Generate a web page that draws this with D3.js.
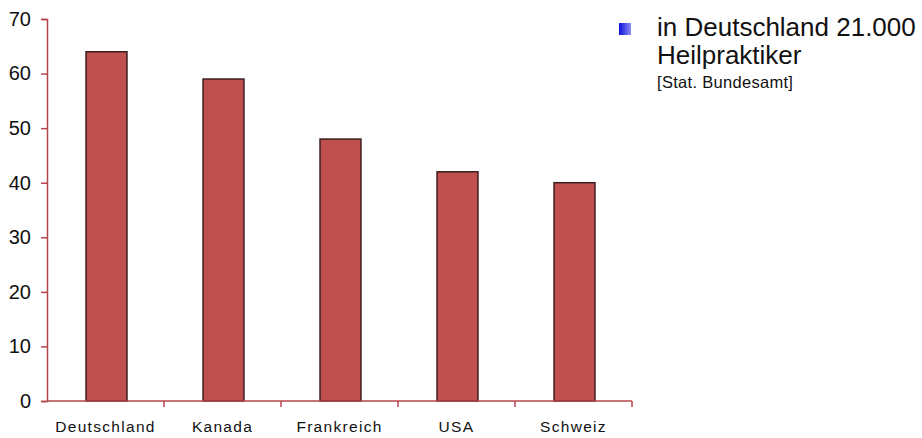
<!DOCTYPE html>
<html>
<head>
<meta charset="utf-8">
<script src="https://cdn.jsdelivr.net/npm/d3@7"></script>
<style>
  body { margin: 0; background: #fff; }
  svg { display: block; font-family: "Liberation Sans", Arial, sans-serif; }
</style>
</head>
<body>
<svg id="chart" width="922" height="438"></svg>
<script>
// data
const countries = ["Deutschland", "Kanada", "Frankreich", "USA", "Schweiz"];
const values = [64, 59, 48, 42, 40];
const yTicks = [0, 10, 20, 30, 40, 50, 60, 70];
const noteLines = ["in Deutschland 21.000", "Heilpraktiker"];
const noteSource = "[Stat. Bundesamt]";

const svg = d3.select("#chart");
const axisColor = "#b4444a";

const x = d3.scaleBand().domain(countries).range([47, 632]).padding(0);
const y = d3.scaleLinear().domain([0, 70]).range([401, 19]);

// bars
const barW = x.bandwidth() * 0.35;
svg.append("g")
  .selectAll("rect")
  .data(countries)
  .join("rect")
    .attr("x", (d) => x(d) + x.bandwidth() / 2 - barW / 2 + 1)
    .attr("y", (d, i) => y(values[i]))
    .attr("width", barW)
    .attr("height", (d, i) => y(0) - y(values[i]))
    .attr("fill", "#c0504d")
    .attr("stroke", "#3b1f1f")
    .attr("stroke-width", 1.5);

// y axis
const yAxis = svg.append("g")
  .attr("transform", "translate(47,0)")
  .call(d3.axisLeft(y).tickValues(yTicks).tickSize(6).tickPadding(10));
yAxis.select(".domain").attr("stroke", axisColor).attr("stroke-width", 1.5);
yAxis.selectAll(".tick line").attr("stroke", axisColor).attr("stroke-width", 1.5);
yAxis.selectAll(".tick text")
  .attr("fill", "#111")
  .attr("font-size", 20)
  .attr("font-family", "Liberation Sans, Arial, sans-serif");

// x axis: ticks sit between the categories
const xAxis = svg.append("g").attr("transform", "translate(0,401)");
xAxis.append("line")
  .attr("x1", 47).attr("x2", 632)
  .attr("stroke", axisColor).attr("stroke-width", 1.5);
xAxis.selectAll("line.sep")
  .data(countries)
  .join("line")
    .attr("class", "sep")
    .attr("x1", (d) => x(d) + x.bandwidth())
    .attr("x2", (d) => x(d) + x.bandwidth())
    .attr("y1", 0).attr("y2", 6)
    .attr("stroke", axisColor).attr("stroke-width", 1.5);
xAxis.selectAll("text")
  .data(countries)
  .join("text")
    .attr("x", (d) => x(d) + x.bandwidth() / 2)
    .attr("y", 31)
    .attr("text-anchor", "middle")
    .attr("font-size", 15.5)
    .attr("letter-spacing", 1.3)
    .attr("fill", "#111")
    .text((d) => d);

// note at top right
const grad = svg.append("defs").append("linearGradient")
  .attr("id", "sq").attr("x1", 0).attr("x2", 1);
grad.append("stop").attr("offset", "0%").attr("stop-color", "#0e0ee0");
grad.append("stop").attr("offset", "100%").attr("stop-color", "#8c8cf0");

svg.append("rect")
  .attr("x", 619).attr("y", 23).attr("width", 12).attr("height", 12)
  .attr("fill", "url(#sq)");

svg.append("g")
  .selectAll("text")
  .data(noteLines)
  .join("text")
    .attr("x", 657)
    .attr("y", (d, i) => 36 + i * 28)
    .attr("font-size", 26)
    .attr("fill", "#111")
    .text((d) => d);

svg.append("text")
  .attr("x", 657).attr("y", 88)
  .attr("font-size", 16.5)
  .attr("letter-spacing", 0.3)
  .attr("fill", "#111")
  .text(noteSource);
</script>
</body>
</html>
